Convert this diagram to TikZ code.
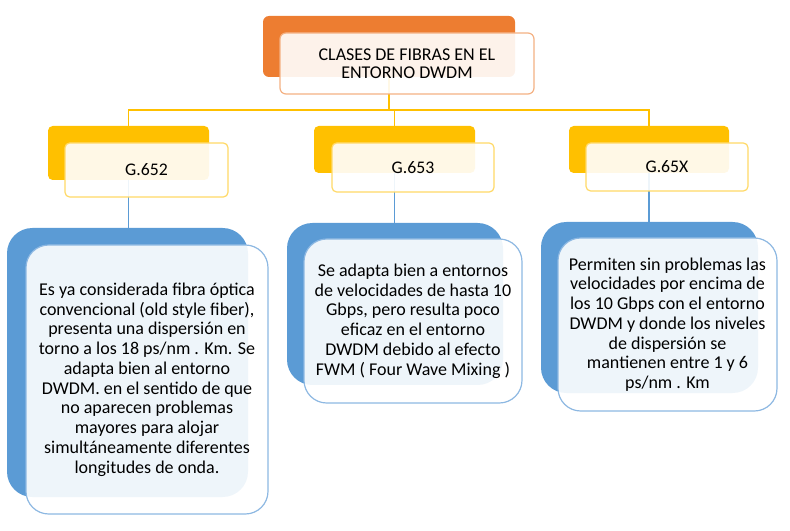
\documentclass[tikz,border=0pt]{standalone}
\usepackage{fontspec}
\setmainfont{Carlito}
\definecolor{orangeA}{HTML}{ED7D31}
\definecolor{orangeL}{HTML}{F4B183}
\definecolor{goldA}{HTML}{FFC000}
\definecolor{goldL}{HTML}{FFD966}
\definecolor{blueA}{HTML}{5B9BD5}
\definecolor{blueL}{HTML}{8DB8E2}
\begin{document}
\begin{tikzpicture}[x=0.75pt,y=-0.75pt,
  backbox/.style={inner sep=0pt, draw=none},
  frontbox/.style={inner sep=0pt, fill=white, fill opacity=0.9, text opacity=1, line width=0.9pt, align=center, text=black},
  oback/.style={backbox, fill=orangeA, rounded corners=4.5pt},
  ofront/.style={frontbox, draw=orangeL, rounded corners=4.5pt, font=\fontsize{13.5pt}{13.8pt}\selectfont},
  yback/.style={backbox, fill=goldA, rounded corners=3.5pt},
  yfront/.style={frontbox, draw=goldL, rounded corners=3.5pt, font=\fontsize{13.3pt}{15pt}\selectfont},
  bback/.style={backbox, fill=blueA, rounded corners=19pt},
  bfront/.style={frontbox, draw=blueL, rounded corners=17pt, font=\fontsize{13.5pt}{14.8pt}\selectfont},
  yconn/.style={draw=goldA, line width=1.1pt},
  bconn/.style={draw=blueA, line width=0.8pt}]
\useasboundingbox (0,0) rectangle (790,531);

% back shapes
\node[oback, minimum width=189pt, minimum height=45.75pt] (rootb) at (389,46.5) {};
\node[yback, minimum width=120.75pt, minimum height=40.5pt] (g2b) at (128.5,153) {};
\node[yback, minimum width=120.75pt, minimum height=35.25pt] (g3b) at (394.5,149.5) {};
\node[yback, minimum width=120pt, minimum height=35.25pt] (g5b) at (649,149.5) {};
\node[bback, minimum width=180.75pt, minimum height=201.75pt] (d2b) at (127.5,362.5) {};
\node[bback, minimum width=162pt, minimum height=121.5pt] (d3b) at (395,304) {};
\node[bback, minimum width=162.75pt, minimum height=128.25pt] (d5b) at (649.5,307.5) {};

% connectors
\coordinate (bus) at (389,110);
\draw[yconn] (rootb.south) -- (bus);
\draw[yconn] (g2b.north) |- (bus) -| (g5b.north);
\draw[yconn] (g3b.north) -- (g3b.north |- bus);
\draw[bconn] (g2b.south) -- (g2b.south |- d2b.north);
\draw[bconn] (g3b.south) -- (g3b.south |- d3b.north);
\draw[bconn] (g5b.south) -- (g5b.south |- d5b.north);

% front shapes
\node[ofront, minimum width=190.5pt, minimum height=45.75pt] (rootf) at (407,63.5) {CLASES DE FIBRAS EN EL\\ENTORNO DWDM};
\node[yfront, minimum width=122.25pt, minimum height=40.5pt] (g2f) at (146.5,170) {G.652};
\node[yfront, minimum width=121.5pt, minimum height=36.75pt] (g3f) at (413,167.5) {G.653};
\node[yfront, minimum width=121.5pt, minimum height=36pt] (g5f) at (667,167) {G.65X};
\node[bfront, minimum width=181.5pt, minimum height=201.75pt] (d2f) at (147,379.5) {Es ya considerada fibra óptica\\convencional (old style fiber),\\presenta una dispersión en\\torno a los 18 ps/nm . Km. Se\\adapta bien al entorno\\DWDM. en el sentido de que\\no aparecen problemas\\mayores para alojar\\simultáneamente diferentes\\longitudes de onda.};
\node[bfront, minimum width=163.5pt, minimum height=123pt] (d3f) at (413,321) {Se adapta bien a entornos\\de velocidades de hasta 10\\Gbps, pero resulta poco\\eficaz en el entorno\\DWDM debido al efecto\\FWM ( Four Wave Mixing )};
\node[bfront, minimum width=164.25pt, minimum height=129.75pt] (d5f) at (667.5,324.5) {Permiten sin problemas las\\velocidades por encima de\\los 10 Gbps con el entorno\\DWDM y donde los niveles\\de dispersión se\\mantienen entre 1 y 6\\ps/nm . Km};
\end{tikzpicture}
\end{document}
